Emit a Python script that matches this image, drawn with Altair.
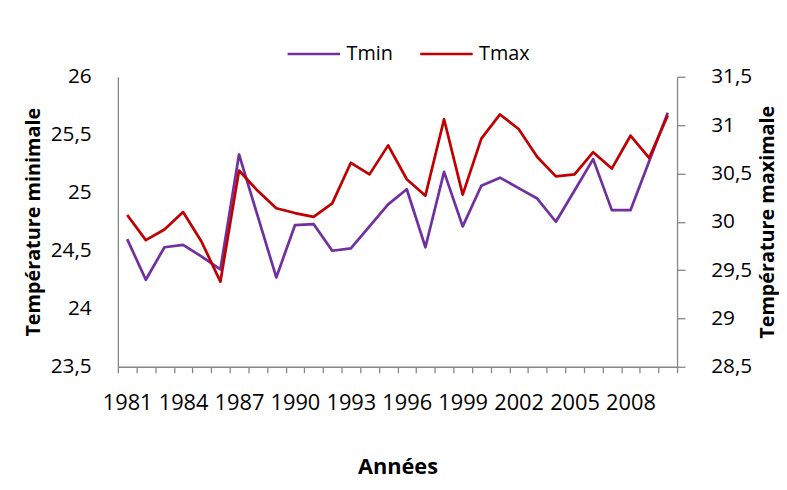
import altair as alt
import pandas as pd

years = list(range(1981, 2011))
tmin = [24.60, 24.25, 24.53, 24.55, 24.45, 24.34, 25.33, 24.80, 24.27, 24.72,
        24.73, 24.50, 24.52, 24.71, 24.90, 25.03, 24.53, 25.18, 24.71, 25.06,
        25.13, 25.04, 24.95, 24.75, 25.02, 25.29, 24.85, 24.85, 25.27, 25.69]
tmax = [30.07, 29.81, 29.92, 30.10, 29.79, 29.38, 30.53, 30.32, 30.14, 30.09,
        30.05, 30.19, 30.61, 30.49, 30.79, 30.44, 30.27, 31.06, 30.28, 30.86,
        31.11, 30.96, 30.67, 30.47, 30.49, 30.72, 30.55, 30.89, 30.66, 31.10]
series_names = ["Tmin", "Tmax"]
series_colors = ["#7030A0", "#C00000"]
left_ticks = [23.5, 24, 24.5, 25, 25.5, 26]
right_ticks = [28.5, 29, 29.5, 30, 30.5, 31, 31.5]
x_tick_bounds = [y - 0.5 for y in years] + [years[-1] + 0.5]

df = pd.DataFrame({"year": years, "Tmin": tmin, "Tmax": tmax})

GRAY = "#868686"
FONT = "Open Sans"

color_enc = alt.Color(
    "series:N",
    scale=alt.Scale(domain=series_names, range=series_colors),
    legend=alt.Legend(
        title=None, orient="none", legendX=170, legendY=-51,
        direction="horizontal", symbolType="stroke", symbolSize=2809,
        symbolStrokeWidth=2.5, labelFontSize=20, labelFont=FONT,
        labelColor="#000000", columnPadding=22, labelOffset=5,
    ),
)

x_enc = alt.X(
    "year:Q",
    scale=alt.Scale(domain=[years[0] - 0.5, years[-1] + 0.5], nice=False, zero=False),
    axis=alt.Axis(
        values=x_tick_bounds,
        labelExpr="((datum.value + 0.5 - 1981) % 3 == 0 && datum.value + 0.5 <= 2008) ? toString(datum.value + 0.5) : ''",
        labelOffset=9.4, labelFlush=False, labelOverlap=False, labelBound=False,
        labelFontSize=22, labelFont=FONT, labelColor="#000000", labelPadding=20,
        tickSize=6, tickColor=GRAY, tickWidth=1.3,
        domainColor=GRAY, domainWidth=1.3, grid=False,
        title="Années", titleFontSize=22, titleFont=FONT, titleFontWeight="bold",
        titleColor="#000000", titlePadding=44,
    ),
)

base = alt.Chart(df)

lmin = base.transform_calculate(series="'Tmin'").mark_line(
    strokeWidth=2.75, strokeJoin="round"
).encode(
    x=x_enc,
    y=alt.Y(
        "Tmin:Q",
        scale=alt.Scale(domain=[23.5, 26], nice=False, zero=False),
        axis=alt.Axis(
            orient="left", values=left_ticks,
            labelExpr="replace(toString(datum.value), '.', ',')",
            ticks=False, tickSize=0, labelPadding=27,
            labelFontSize=21, labelFont=FONT, labelColor="#000000",
            domainColor=GRAY, domainWidth=1.3, grid=False,
            title="Température minimale", titleFontSize=20, titleFont=FONT,
            titleFontWeight="bold", titleColor="#000000", titlePadding=7,
        ),
    ),
    color=color_enc,
)

lmax = base.transform_calculate(series="'Tmax'").mark_line(
    strokeWidth=2.75, strokeJoin="round"
).encode(
    x=x_enc,
    y=alt.Y(
        "Tmax:Q",
        scale=alt.Scale(domain=[28.5, 31.5], nice=False, zero=False),
        axis=alt.Axis(
            orient="right", values=right_ticks,
            labelExpr="replace(toString(datum.value), '.', ',')",
            tickSize=8, tickColor=GRAY, tickWidth=1.3, labelPadding=26,
            labelFontSize=21, labelFont=FONT, labelColor="#000000",
            domainColor=GRAY, domainWidth=1.3, grid=False,
            title="Température maximale", titleFontSize=20, titleFont=FONT,
            titleFontWeight="bold", titleColor="#000000", titlePadding=26,
            titleAngle=270,
        ),
    ),
    color=color_enc,
)

chart = alt.layer(lmin, lmax).resolve_scale(y="independent").properties(
    width=565, height=293,
    padding={"left": 111, "top": 67, "right": 103, "bottom": 116},
    autosize=alt.AutoSizeParams(type="none"),
    background="#ffffff",
).configure(font=FONT).configure_view(stroke=None)

chart.save("out.html", embed_options={"renderer": "svg", "actions": False})
